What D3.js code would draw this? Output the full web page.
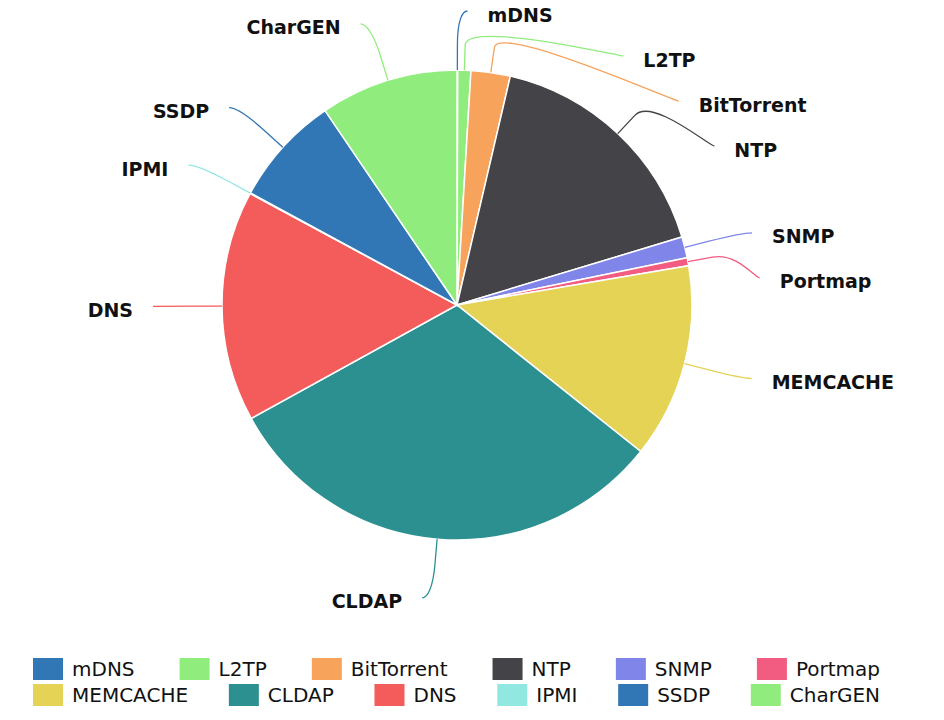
<!DOCTYPE html>
<html>
<head>
<meta charset="utf-8">
<script src="https://cdn.jsdelivr.net/npm/d3@7"></script>
<style>
  body { margin: 0; background: #fff; }
  svg { display: block; }
</style>
</head>
<body>
<div class="chart"></div>
<script>
// protocol shares (%), clockwise from 12 o'clock
const protocols = ["mDNS", "L2TP", "BitTorrent", "NTP", "SNMP", "Portmap",
                   "MEMCACHE", "CLDAP", "DNS", "IPMI", "SSDP", "CharGEN"];
const shares = [0.05, 0.9, 2.7, 16.7, 1.45, 0.55, 13.4, 31.3, 15.9, 0.05, 7.6, 9.5];
const colors = ["#3277b5", "#90ed7d", "#f7a35c", "#434348", "#8085e9", "#f15c80",
                "#e4d354", "#2b908f", "#f45b5b", "#91e8e1", "#3277b5", "#90ed7d"];
// legend rows
const legendRows = [
  ["mDNS", "L2TP", "BitTorrent", "NTP", "SNMP", "Portmap"],
  ["MEMCACHE", "CLDAP", "DNS", "IPMI", "SSDP", "CharGEN"]
];

const width = 944, height = 720;
const cx = 457, cy = 305, radius = 235;
const labelRadius = radius + 59, breakOffset = 25, labelGap = 45;

const data = protocols.map((p, i) => ({ name: p, value: shares[i], color: colors[i] }));

const svg = d3.select(".chart")
    .append("svg")
    .attr("width", width)
    .attr("height", height);

const pie = d3.pie().sort(null).value(d => d.value);
const arcs = pie(data);
const arc = d3.arc().innerRadius(0).outerRadius(radius);

const g = svg.append("g").attr("transform", "translate(" + cx + "," + cy + ")");

g.selectAll("path.slice")
    .data(arcs)
    .enter()
    .append("path")
    .attr("class", "slice")
    .attr("d", arc)
    .attr("fill", d => d.data.color)
    .attr("stroke", "#fff")
    .attr("stroke-width", 1.5);

// label placement: natural position on a larger circle, then pushed apart per side
arcs.forEach(d => {
    d.mid = (d.startAngle + d.endAngle) / 2;
    d.right = d.mid < Math.PI;
    d.ly = -labelRadius * Math.cos(d.mid);
});
[true, false].forEach(side => {
    const group = arcs.filter(d => d.right === side).sort((a, b) => a.ly - b.ly);
    for (let i = 0; i < group.length; i++) {
        if (i === 0) group[i].ly = Math.max(group[i].ly, -labelRadius);
        else group[i].ly = Math.max(group[i].ly, group[i - 1].ly + labelGap);
    }
    for (let i = group.length - 1; i >= 0; i--) {
        if (i === group.length - 1) group[i].ly = Math.min(group[i].ly, labelRadius);
        else group[i].ly = Math.min(group[i].ly, group[i + 1].ly - labelGap);
    }
});
arcs.forEach(d => {
    const dx = Math.sqrt(Math.max(0, labelRadius * labelRadius - d.ly * d.ly)) + 10;
    d.lx = d.right ? dx : -dx;
    d.touch = [radius * Math.sin(d.mid), -radius * Math.cos(d.mid)];
    d.brk = [(radius + breakOffset) * Math.sin(d.mid), -(radius + breakOffset) * Math.cos(d.mid)];
});

g.selectAll("path.connector")
    .data(arcs)
    .enter()
    .append("path")
    .attr("class", "connector")
    .attr("fill", "none")
    .attr("stroke", d => d.data.color)
    .attr("stroke-width", 1.3)
    .attr("d", d => {
        const c1x = d.lx + (d.right ? -5 : 5);
        const c2x = 2 * d.brk[0] - d.touch[0], c2y = 2 * d.brk[1] - d.touch[1];
        return "M" + d.lx + "," + d.ly +
            "C" + c1x + "," + d.ly + " " + c2x + "," + c2y + " " + d.brk[0] + "," + d.brk[1] +
            "L" + d.touch[0] + "," + d.touch[1];
    });

g.selectAll("text.label")
    .data(arcs)
    .enter()
    .append("text")
    .attr("class", "label")
    .attr("x", d => d.lx + (d.right ? 20 : -20))
    .attr("y", d => d.ly + 5)
    .attr("dominant-baseline", "middle")
    .attr("text-anchor", d => d.right ? "start" : "end")
    .style("font-family", "'DejaVu Sans', Verdana, sans-serif")
    .style("font-weight", "bold")
    .style("font-size", "19px")
    .attr("fill", "#111")
    .text(d => d.data.name);

// legend: each row spread edge to edge
const legendLeft = 33, legendRight = 880, boxW = 30, boxH = 22, boxGap = 9;
const legendTop = [658, 684];
const colorOf = name => data.find(d => d.name === name).color;

legendRows.forEach((row, r) => {
    const lg = svg.append("g");
    const items = row.map(name => {
        const it = lg.append("g");
        it.append("rect")
            .attr("width", boxW)
            .attr("height", boxH)
            .attr("fill", colorOf(name));
        const t = it.append("text")
            .attr("x", boxW + boxGap)
            .attr("y", boxH / 2 + 1)
            .attr("dominant-baseline", "middle")
            .style("font-family", "'DejaVu Sans', Verdana, sans-serif")
            .style("font-size", "20px")
            .attr("fill", "#111")
            .text(name);
        return { node: it, w: boxW + boxGap + t.node().getComputedTextLength() };
    });
    const total = d3.sum(items, d => d.w);
    const gap = (legendRight - legendLeft - total) / (items.length - 1);
    let x = legendLeft;
    items.forEach(it => {
        it.node.attr("transform", "translate(" + x + "," + legendTop[r] + ")");
        x += it.w + gap;
    });
});
</script>
</body>
</html>
